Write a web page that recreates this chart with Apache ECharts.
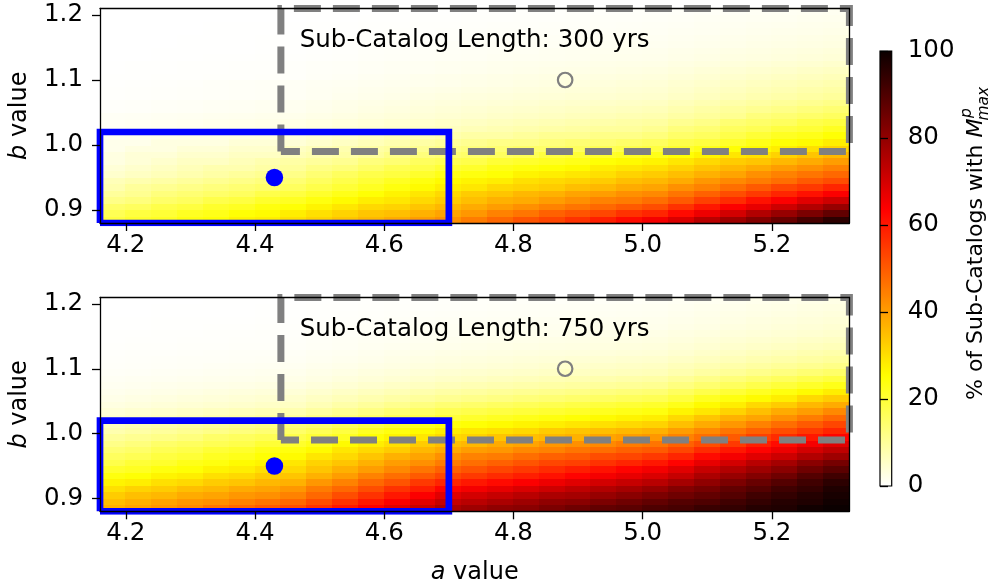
<!DOCTYPE html>
<html>
<head>
<meta charset="utf-8">
<script src="https://cdn.jsdelivr.net/npm/echarts@6/dist/echarts.min.js"></script>
<style>
  html, body { margin: 0; padding: 0; background: #ffffff; }
  #chart { width: 995px; height: 586px; }
</style>
</head>
<body>
<div id="chart"></div>
<script>
// Cell centres of the (a, b) grid: a in steps of 0.04, b in steps of 0.01
const aCenters = [4.18, 4.22, 4.26, 4.30, 4.34, 4.38, 4.42, 4.46, 4.50, 4.54, 4.58, 4.62, 4.66, 4.70,
  4.74, 4.78, 4.82, 4.86, 4.90, 4.94, 4.98, 5.02, 5.06, 5.10, 5.14, 5.18, 5.22, 5.26, 5.30];
const bCenters = [0.885, 0.895, 0.905, 0.915, 0.925, 0.935, 0.945, 0.955, 0.965, 0.975, 0.985,
  0.995, 1.005, 1.015, 1.025, 1.035, 1.045, 1.055, 1.065, 1.075, 1.085, 1.095, 1.105, 1.115,
  1.125, 1.135, 1.145, 1.155, 1.165, 1.175, 1.185, 1.195, 1.205];

const xTicks = [4.2, 4.4, 4.6, 4.8, 5.0, 5.2];
const yTicks = [0.9, 1.0, 1.1, 1.2];
const cbTicks = [0, 20, 40, 60, 80, 100];

// % of sub-catalogs reaching M_max^p, one row per b value (bottom row first)
const pct300 = [
  [19,21,22,24,25,27,28,30,32,34,36,38,40,42,45,48,51,53,56,59,62,65,69,74,78,82,86,91,95],
  [17,19,20,22,23,25,26,28,30,32,34,35,37,39,41,44,46,49,51,53,56,58,62,66,70,75,79,83,87],
  [15,16,18,19,21,22,24,25,27,29,31,32,34,36,38,40,42,44,46,48,50,52,56,60,64,67,71,75,79],
  [12,13,15,16,18,19,21,22,24,26,28,29,31,33,35,37,38,40,42,44,45,47,50,54,57,61,64,68,71],
  [10,11,13,14,15,16,18,19,21,23,25,27,29,31,33,34,36,37,39,40,42,43,46,49,52,55,58,61,64],
  [8,10,11,12,13,14,15,16,18,20,22,24,26,28,29,31,32,33,35,36,38,39,42,44,47,50,53,55,58],
  [7,8,9,10,11,12,13,14,16,18,20,22,24,26,27,28,30,31,32,33,35,36,38,41,43,45,47,50,52],
  [5,6,7,8,9,10,11,12,14,16,18,19,21,23,24,25,27,28,29,30,32,33,35,37,39,42,44,46,48],
  [4,5,6,7,8,8,9,10,12,13,15,17,18,20,21,23,24,25,26,28,29,30,32,34,36,38,40,42,44],
  [3,4,5,6,6,7,8,9,10,11,13,14,16,17,18,20,21,22,23,25,26,27,29,31,33,34,36,38,40],
  [3,4,4,5,5,6,6,7,8,9,10,12,13,14,15,16,17,19,20,21,22,23,25,27,29,30,32,34,36],
  [2,3,3,4,4,5,5,6,7,8,9,10,11,12,13,14,15,15,16,17,18,19,21,23,25,26,28,30,32],
  [2,2,3,3,3,4,4,4,5,6,7,8,9,10,11,12,12,13,14,14,15,16,18,19,21,23,25,26,28],
  [1.5,1.8,2.1,2.4,2.6,2.9,3.2,3.5,4.3,5,6,7,7,8,9,9,10,11,11,12,12,13,15,16,18,20,22,23,25],
  [1.2,1.5,1.7,2,2.2,2.5,2.8,3,3.6,4.2,4.8,5.3,5.9,6.5,7.1,7.6,8.2,8.8,9.3,9.9,10,11,13,14,16,17,19,20,22],
  [1,1.2,1.4,1.6,1.9,2.1,2.3,2.5,3,3.5,4,4.5,5,5.5,6,6.5,7,7.5,8,8.5,9,9.5,11,12,14,15,16,18,19],
  [1,1.1,1.3,1.4,1.6,1.7,1.9,2,2.4,2.8,3.3,3.7,4.1,4.5,4.9,5.4,5.8,6.2,6.7,7.1,7.6,8,9.1,10,11,13,14,15,16],
  [0.5,0.6,0.8,0.9,1.1,1.2,1.4,1.5,1.9,2.3,2.8,3.2,3.6,4,4.4,4.8,5.1,5.5,5.9,6.3,6.6,7,8,9,10,11,12,13,14],
  [0.5,0.6,0.8,0.9,1.1,1.2,1.4,1.5,1.8,2.2,2.5,2.8,3.2,3.5,3.8,4.1,4.4,4.8,5.1,5.4,5.7,6,6.9,7.7,8.6,9.4,10.3,11.1,12],
  [0.3,0.4,0.5,0.6,0.7,0.8,0.9,1,1.3,1.7,2,2.3,2.7,3,3.3,3.5,3.8,4,4.3,4.5,4.8,5,5.7,6.4,7.1,7.9,8.6,9.3,10],
  [0.3,0.4,0.5,0.6,0.7,0.8,0.9,1,1.3,1.5,1.8,2,2.3,2.5,2.8,3,3.3,3.5,3.8,4,4.3,4.5,5.1,5.8,6.4,7.1,7.7,8.4,9],
  [0.2,0.3,0.4,0.5,0.7,0.8,0.9,1,1.2,1.3,1.5,1.7,1.8,2,2.3,2.5,2.8,3,3.3,3.5,3.8,4,4.6,5.1,5.7,6.3,6.9,7.4,8],
  [0.2,0.2,0.3,0.3,0.4,0.4,0.5,0.5,0.8,1,1.3,1.5,1.8,2,2.2,2.4,2.6,2.8,2.9,3.1,3.3,3.5,4,4.5,5,5.5,6,6.5,7],
  [0.1,0.2,0.2,0.3,0.3,0.4,0.4,0.5,0.7,0.8,1,1.2,1.3,1.5,1.7,1.9,2.1,2.3,2.4,2.6,2.8,3,3.4,3.9,4.3,4.7,5.1,5.6,6],
  [0.1,0.2,0.2,0.3,0.3,0.4,0.4,0.5,0.7,0.8,1,1.2,1.3,1.5,1.6,1.8,1.9,2,2.1,2.3,2.4,2.5,2.9,3.2,3.6,3.9,4.3,4.6,5],
  [0,0,0.1,0.1,0.2,0.2,0.3,0.3,0.4,0.5,0.7,0.8,0.9,1,1.1,1.3,1.4,1.5,1.6,1.8,1.9,2,2.3,2.6,2.9,3.1,3.4,3.7,4],
  [0,0,0.1,0.1,0.1,0.1,0.2,0.2,0.3,0.4,0.6,0.7,0.8,0.9,1,1.1,1.2,1.4,1.5,1.6,1.7,1.8,2.1,2.3,2.6,2.8,3.1,3.3,3.6],
  [0,0,0,0.1,0.1,0.1,0.2,0.2,0.3,0.4,0.5,0.6,0.7,0.8,0.9,1,1,1.1,1.2,1.3,1.4,1.5,1.7,1.9,2.1,2.4,2.6,2.8,3],
  [0,0,0,0.1,0.1,0.1,0.2,0.2,0.3,0.3,0.4,0.5,0.5,0.6,0.7,0.8,0.9,1,1,1.1,1.2,1.3,1.5,1.7,1.9,2.1,2.3,2.5,2.7],
  [0,0,0,0,0.1,0.1,0.1,0.1,0.2,0.2,0.3,0.4,0.4,0.5,0.6,0.7,0.7,0.8,0.8,0.9,1,1.1,1.3,1.4,1.6,1.8,2,2.1,2.3],
  [0,0,0,0,0.1,0.1,0.1,0.1,0.2,0.2,0.3,0.3,0.4,0.4,0.5,0.6,0.6,0.7,0.7,0.8,0.9,1,1.1,1.3,1.4,1.6,1.7,1.9,2],
  [0,0,0,0,0,0,0,0,0.1,0.1,0.2,0.2,0.3,0.3,0.4,0.4,0.5,0.5,0.6,0.7,0.7,0.8,0.9,1.1,1.2,1.3,1.4,1.6,1.7],
  [0,0,0,0,0,0,0,0,0.1,0.1,0.1,0.2,0.2,0.2,0.3,0.3,0.4,0.4,0.5,0.5,0.6,0.6,0.7,0.8,0.9,1.1,1.2,1.3,1.4]
];

const pct750 = [
  [37,39,41,43,46,48,50,52,56,60,64,68,72,76,78,80,81,83,85,87,88,90,91,93,94,96,97,99,100],
  [35,37,39,41,42,44,46,48,52,56,60,64,68,72,74,76,78,80,81,83,85,87,89,90,92,94,96,97,99],
  [33,35,36,38,39,41,42,44,48,52,56,60,64,68,70,72,74,76,77,79,81,83,85,87,89,92,94,96,98],
  [30,32,33,35,36,38,39,41,45,48,52,56,59,63,65,67,69,71,73,75,77,79,82,84,87,89,92,94,97],
  [27,28,30,31,33,34,36,37,41,44,48,51,55,58,60,62,64,66,68,70,72,74,77,80,83,86,89,92,95],
  [24,25,27,28,30,31,33,34,37,40,44,47,50,53,55,57,59,61,63,65,67,69,72,76,79,82,85,89,92],
  [21,22,24,25,27,28,30,31,34,37,40,43,46,49,51,53,55,57,59,61,63,65,68,72,75,78,81,85,88],
  [18,20,21,23,24,26,27,29,32,34,37,40,42,45,47,49,51,53,54,56,58,60,63,67,70,74,77,81,84],
  [16,17,19,20,22,23,25,26,29,31,34,37,39,42,44,45,47,49,50,52,53,55,58,62,65,68,71,75,78],
  [14,15,17,18,20,21,23,24,26,29,31,33,36,38,40,41,43,44,46,47,49,50,53,57,60,63,66,70,73],
  [12,13,15,16,17,18,20,21,23,26,28,30,33,35,36,38,39,41,42,43,45,46,49,52,55,59,62,65,68],
  [10,11,12,13,15,16,17,18,20,22,25,27,29,31,32,34,35,36,37,39,40,41,44,47,50,54,57,60,63],
  [8,9,10,11,12,13,14,15,17,19,22,24,26,28,29,30,31,33,34,35,36,37,40,43,46,49,52,55,58],
  [6.5,7.4,8.2,9.1,9.9,11,12,13,14,16,18,20,22,24,25,26,27,28,29,30,31,32,35,38,41,44,47,50,53],
  [5,5.7,6.4,7.1,7.9,8.6,9.3,10,12,13,15,17,18,20,21,22,23,24,25,26,27,28,31,34,37,39,42,45,48],
  [4,4.6,5.1,5.7,6.3,6.9,7.4,8,9.5,11,12.5,14,15.5,17,17.9,18.8,19.6,20.5,21.4,22.3,23.1,24,27,29,32,35,38,40,43],
  [3,3.4,3.9,4.3,4.7,5.1,5.6,6,7.3,8.7,10,11.3,12.7,14,14.9,15.8,16.6,17.5,18.4,19.3,20.1,21,23,26,28,31,33,36,38],
  [2.3,2.7,3.1,3.5,3.8,4.2,4.6,5,6,7,8,9,10,11,11.8,12.5,13.3,14,14.8,15.5,16.3,17,19,22,24,26,28,31,33],
  [1.8,2.1,2.4,2.7,3.1,3.4,3.7,4,4.8,5.7,6.5,7.3,8.2,9,9.6,10.3,10.9,11.5,12.1,12.8,13.4,14,16,18,20,22,24,26,28],
  [1.4,1.6,1.9,2.1,2.3,2.5,2.8,3,3.7,4.3,5,5.7,6.3,7,7.5,8,8.5,9,9.5,10,10.5,11,12.7,14.4,16.1,17.9,19.6,21.3,23],
  [1.1,1.3,1.4,1.6,1.8,1.9,2.1,2.3,2.8,3.4,3.9,4.4,5,5.5,5.9,6.4,6.8,7.3,7.7,8.1,8.6,9,10.4,11.9,13.3,14.7,16.1,17.6,19],
  [0.8,0.9,1.1,1.2,1.4,1.5,1.7,1.8,2.3,2.7,3.2,3.6,4.1,4.5,4.8,5.1,5.4,5.8,6.1,6.4,6.7,7,8.1,9.3,10.4,11.6,12.7,13.9,15],
  [0.6,0.7,0.8,0.9,1.1,1.2,1.3,1.4,1.8,2.1,2.5,2.8,3.2,3.5,3.8,4.1,4.4,4.8,5.1,5.4,5.7,6,6.9,7.7,8.6,9.4,10.3,11.1,12],
  [0.5,0.6,0.7,0.8,0.8,0.9,1,1.1,1.4,1.7,2,2.4,2.7,3,3.3,3.5,3.8,4,4.3,4.5,4.8,5,5.7,6.4,7.1,7.9,8.6,9.3,10],
  [0.4,0.5,0.5,0.6,0.7,0.8,0.8,0.9,1.2,1.4,1.7,2,2.2,2.5,2.7,2.9,3.1,3.3,3.4,3.6,3.8,4,4.6,5.3,5.9,6.6,7.2,7.9,8.5],
  [0.3,0.4,0.4,0.5,0.5,0.6,0.6,0.7,0.9,1.1,1.4,1.6,1.8,2,2.2,2.4,2.6,2.8,2.9,3.1,3.3,3.5,4,4.5,5,5.5,6,6.5,7],
  [0.2,0.3,0.3,0.4,0.4,0.5,0.5,0.6,0.8,1,1.2,1.3,1.5,1.7,1.9,2,2.2,2.4,2.5,2.7,2.8,3,3.4,3.9,4.3,4.7,5.1,5.6,6],
  [0.2,0.2,0.3,0.3,0.4,0.4,0.5,0.5,0.7,0.8,1,1.1,1.3,1.4,1.5,1.7,1.8,1.9,2.1,2.2,2.4,2.5,2.9,3.2,3.6,3.9,4.3,4.6,5],
  [0.1,0.1,0.2,0.2,0.3,0.3,0.4,0.4,0.5,0.7,0.8,0.9,1.1,1.2,1.3,1.4,1.5,1.6,1.7,1.8,1.9,2,2.4,2.7,3.1,3.4,3.8,4.1,4.5],
  [0.1,0.1,0.2,0.2,0.2,0.2,0.3,0.3,0.4,0.5,0.6,0.8,0.9,1,1.1,1.2,1.3,1.4,1.5,1.6,1.7,1.8,2.1,2.4,2.7,3.1,3.4,3.7,4],
  [0,0,0.1,0.1,0.1,0.1,0.2,0.2,0.3,0.4,0.5,0.6,0.7,0.8,0.9,1,1,1.1,1.2,1.3,1.4,1.5,1.8,2.1,2.4,2.6,2.9,3.2,3.5],
  [0,0,0.1,0.1,0.1,0.1,0.2,0.2,0.3,0.3,0.4,0.5,0.5,0.6,0.7,0.8,0.9,1,1,1.1,1.2,1.3,1.5,1.8,2,2.3,2.5,2.8,3],
  [0,0,0,0,0.1,0.1,0.1,0.1,0.2,0.2,0.3,0.4,0.4,0.5,0.6,0.6,0.7,0.7,0.8,0.8,0.9,1,1.2,1.4,1.6,1.9,2.1,2.3,2.5]
];

// Reference points and search regions in (a, b)
const bestFit = [[4.43, 0.95]];
const catalogFit = [[4.88, 1.10]];
const blueBox = [[4.16, 0.88], [4.16, 1.02], [4.70, 1.02], [4.70, 0.88], [4.16, 0.88]];
const grayBox = [[4.44, 0.99], [4.44, 1.21], [5.32, 1.21], [5.32, 0.99], [4.44, 0.99]];
const panelTitles = ['Sub-Catalog Length: 300 yrs', 'Sub-Catalog Length: 750 yrs'];
const titleAnchor = [[4.47, 1.16]];

const FONT = 'DejaVu Sans';
const A_MIN = 4.16, A_MAX = 5.32, B_MIN = 0.88, B_MAX = 1.21;

// matplotlib "hot" colormap, reversed (0 -> white, 100 -> near black)
function hotR(v) {
  const t = 1 - v / 100;
  const r = t < 0.365079 ? 0.0416 + (1 - 0.0416) * t / 0.365079 : 1;
  const g = t < 0.365079 ? 0 : (t > 0.746032 ? 1 : (t - 0.365079) / (0.746032 - 0.365079));
  const b = t < 0.746032 ? 0 : (t - 0.746032) / (1 - 0.746032);
  return 'rgb(' + Math.round(r * 255) + ',' + Math.round(g * 255) + ',' + Math.round(b * 255) + ')';
}
const hotColors = [];
for (let k = 0; k <= 100; k++) hotColors.push(hotR(k));
const cbStops = [];
for (let k = 0; k <= 100; k++) cbStops.push({ offset: k / 100, color: hotR(100 - k) });

function cells(rows) {
  const out = [];
  rows.forEach((row, j) => row.forEach((v, i) => out.push([aCenters[i], bCenters[j], v])));
  return out;
}
const halfA = (aCenters[1] - aCenters[0]) / 2;
const halfB = (bCenters[1] - bCenters[0]) / 2;

function renderCell(params, api) {
  const a = api.value(0), b = api.value(1);
  const p0 = api.coord([a - halfA, b + halfB]);
  const p1 = api.coord([a + halfA, b - halfB]);
  const x = Math.floor(p0[0]), y = Math.floor(p0[1]);
  return {
    type: 'rect',
    shape: { x: x, y: y, width: Math.ceil(p1[0]) - x, height: Math.ceil(p1[1]) - y },
    style: { fill: api.visual('color') }
  };
}

const grids = [
  { left: 98.4, top: 8.5, width: 751, height: 214.5 },
  { left: 98.4, top: 297.5, width: 751, height: 213.8 },
  { left: 880, top: 51, width: 11.7, height: 435 }
];

const spineLine = { show: true, lineStyle: { color: '#000', width: 1.3 } };
const tickStyle = { color: '#000', width: 1.3 };
const labelText = { fontSize: 24.5, fontFamily: FONT, color: '#000' };
const nameText = {
  fontSize: 24, fontFamily: FONT, color: '#000',
  rich: { i: { fontSize: 24, fontFamily: FONT, fontStyle: 'italic', color: '#000' } }
};

function xMain(gi, withName) {
  return {
    type: 'value', gridIndex: gi, min: A_MIN, max: A_MAX, z: 10,
    axisLine: spineLine, splitLine: { show: false },
    axisTick: { show: true, customValues: xTicks, length: 8, lineStyle: tickStyle },
    axisLabel: Object.assign({ show: true, customValues: xTicks, margin: 10,
      formatter: v => v.toFixed(1) }, labelText),
    name: withName ? '{i|a} value' : '', nameLocation: 'middle', nameGap: 49,
    nameTextStyle: nameText
  };
}
function xTop(gi) {
  return {
    type: 'value', gridIndex: gi, position: 'top', min: A_MIN, max: A_MAX, z: 10,
    axisLine: spineLine, axisTick: { show: false }, axisLabel: { show: false }, splitLine: { show: false }
  };
}
function yMain(gi) {
  return {
    type: 'value', gridIndex: gi, min: B_MIN, max: B_MAX, z: 10,
    axisLine: spineLine, splitLine: { show: false },
    axisTick: { show: true, customValues: yTicks, length: 8, lineStyle: tickStyle },
    axisLabel: Object.assign({ show: true, customValues: yTicks, margin: 17,
      formatter: v => v.toFixed(1) }, labelText),
    name: '{i|b} value', nameLocation: 'middle', nameRotate: 90, nameGap: 68,
    nameTextStyle: nameText
  };
}
function yRight(gi) {
  return {
    type: 'value', gridIndex: gi, position: 'right', min: B_MIN, max: B_MAX, z: 10,
    axisLine: spineLine, axisTick: { show: false }, axisLabel: { show: false }, splitLine: { show: false }
  };
}

function overlays(ax) {
  return [
    { type: 'line', xAxisIndex: ax, yAxisIndex: ax, data: grayBox, showSymbol: false, symbol: 'none',
      clip: true, z: 3, silent: true,
      lineStyle: { color: '#808080', width: 7, type: [27, 12], cap: 'butt', join: 'miter' } },
    { type: 'line', xAxisIndex: ax, yAxisIndex: ax, data: blueBox, showSymbol: false, symbol: 'none',
      clip: true, z: 4, silent: true,
      lineStyle: { color: '#0000ff', width: 6.7, cap: 'butt', join: 'miter' } },
    { type: 'scatter', xAxisIndex: ax, yAxisIndex: ax, data: bestFit, symbolSize: 17.5, z: 5, silent: true,
      itemStyle: { color: '#0000ff', opacity: 1 } },
    { type: 'scatter', xAxisIndex: ax, yAxisIndex: ax, data: catalogFit, symbolSize: 14.5, z: 5, silent: true,
      itemStyle: { color: 'rgba(0,0,0,0)', borderColor: '#808080', borderWidth: 2.2, opacity: 1 } }
  ];
}
function titleSeries(ax, text) {
  return {
    type: 'scatter', xAxisIndex: ax, yAxisIndex: ax, data: titleAnchor, symbolSize: 1, z: 6, silent: true,
    itemStyle: { color: 'rgba(0,0,0,0)', opacity: 1 },
    label: { show: true, position: [0, 0], align: 'left', verticalAlign: 'middle', formatter: text,
      fontSize: 24.5, fontFamily: FONT, color: '#000000', opacity: 1 }
  };
}

const chart = echarts.init(document.getElementById('chart'), null, { renderer: 'canvas' });

// colour-bar label: "% of Sub-Catalogs with M^p_max" written bottom-to-top
const measure = document.createElement('canvas').getContext('2d');
function textWidth(str, font) { measure.font = font; return measure.measureText(str).width; }
const cbMain = '% of Sub-Catalogs with ';
const mainFont = '22px "' + FONT + '"';
const italFont = 'italic 22px "' + FONT + '"';
const smallFont = 'italic 15.5px "' + FONT + '"';
const w1 = textWidth(cbMain, mainFont);
const wM = textWidth('M', italFont);

const option = {
  animation: false,
  backgroundColor: '#ffffff',
  grid: grids,
  xAxis: [xMain(0, false), xTop(0), xMain(1, true), xTop(1),
    { type: 'value', gridIndex: 2, min: 0, max: 1, show: false }],
  yAxis: [yMain(0), yRight(0), yMain(1), yRight(1),
    { type: 'value', gridIndex: 2, min: 0, max: 100, position: 'right', z: 10,
      axisLine: { show: false }, splitLine: { show: false },
      axisTick: { show: true, customValues: cbTicks, length: 8, lineStyle: tickStyle },
      axisLabel: Object.assign({ show: true, customValues: cbTicks, margin: 16 }, labelText) }],
  visualMap: {
    show: false, type: 'continuous', min: 0, max: 100, dimension: 2, seriesIndex: [0, 1],
    inRange: { color: hotColors }
  },
  series: [
    { type: 'custom', xAxisIndex: 0, yAxisIndex: 0, data: cells(pct300), renderItem: renderCell,
      clip: true, z: 1, silent: true, encode: { x: 0, y: 1 } },
    { type: 'custom', xAxisIndex: 2, yAxisIndex: 2, data: cells(pct750), renderItem: renderCell,
      clip: true, z: 1, silent: true, encode: { x: 0, y: 1 } },
    { type: 'custom', xAxisIndex: 4, yAxisIndex: 4, data: [[0, 0]], silent: true, z: 2,
      renderItem: function (params, api) {
        const p0 = api.coord([0, 100]);
        const p1 = api.coord([1, 0]);
        return {
          type: 'rect',
          shape: { x: p0[0], y: p0[1], width: p1[0] - p0[0], height: p1[1] - p0[1] },
          style: { fill: new echarts.graphic.LinearGradient(0, 0, 0, 1, cbStops), stroke: '#000', lineWidth: 1.2 }
        };
      } }
  ].concat(overlays(0), overlays(2), [titleSeries(0, panelTitles[0]), titleSeries(2, panelTitles[1])]),
  graphic: [{
    type: 'group', x: 976, y: 400, rotation: Math.PI / 2,
    children: [
      { type: 'text', x: 0, y: 0, style: { text: cbMain, font: mainFont, fill: '#000', verticalAlign: 'middle', align: 'left' } },
      { type: 'text', x: w1, y: 0, style: { text: 'M', font: italFont, fill: '#000', verticalAlign: 'middle', align: 'left' } },
      { type: 'text', x: w1 + wM + 0.5, y: -9, style: { text: 'p', font: smallFont, fill: '#000', verticalAlign: 'middle', align: 'left' } },
      { type: 'text', x: w1 + wM - 2, y: 8, style: { text: 'max', font: smallFont, fill: '#000', verticalAlign: 'middle', align: 'left' } }
    ]
  }]
};
chart.setOption(option);
</script>
</body>
</html>
